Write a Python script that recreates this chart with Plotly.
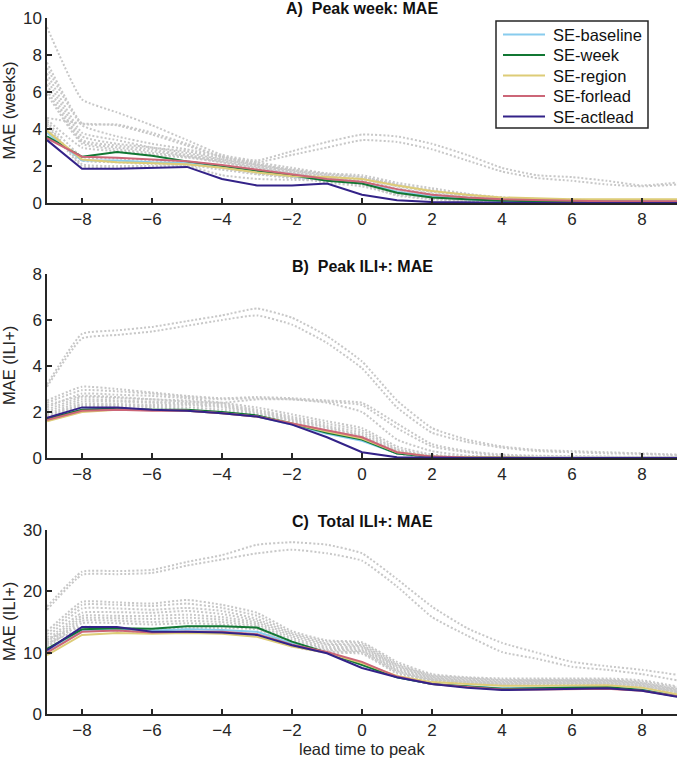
import plotly.graph_objects as go

lead = list(range(-9, 10))
series_names = ["SE-baseline", "SE-week", "SE-region", "SE-forlead", "SE-actlead"]
series_colors = ["#88CCEE", "#117733", "#DDCC77", "#CC6677", "#332288"]

# Panel A: Peak week MAE (weeks)
A_gray = [
    [9.5, 5.6, 4.9, 4.2, 3.4, 2.6, 2.3, 2.8, 3.3, 3.7, 3.6, 3.2, 2.6, 1.9, 1.5, 1.4, 1.2, 0.95, 1.1],
    [7.6, 4.3, 4.25, 3.8, 3.2, 2.5, 2.2, 2.6, 3.0, 3.4, 3.3, 2.9, 2.3, 1.7, 1.35, 1.2, 1.0, 0.9, 1.0],
    [7.3, 4.2, 3.6, 3.2, 2.9, 2.5, 2.2, 1.9, 1.6, 1.4, 1.0, 0.7, 0.45, 0.3, 0.22, 0.18, 0.15, 0.15, 0.15],
    [7.0, 3.8, 3.4, 3.0, 2.8, 2.4, 2.1, 1.8, 1.6, 1.5, 1.1, 0.8, 0.5, 0.3, 0.2, 0.15, 0.15, 0.12, 0.12],
    [6.7, 3.6, 3.2, 3.0, 2.7, 2.35, 2.05, 1.75, 1.5, 1.3, 0.9, 0.6, 0.4, 0.25, 0.18, 0.14, 0.12, 0.1, 0.1],
    [6.4, 3.4, 3.1, 2.9, 2.6, 2.3, 2.0, 1.7, 1.45, 1.2, 0.8, 0.5, 0.3, 0.2, 0.15, 0.12, 0.1, 0.1, 0.1],
    [6.1, 3.3, 3.0, 2.8, 2.55, 2.25, 1.95, 1.65, 1.4, 1.15, 0.7, 0.45, 0.25, 0.18, 0.12, 0.1, 0.1, 0.08, 0.08],
    [5.9, 3.2, 2.9, 2.7, 2.5, 2.2, 1.9, 1.6, 1.35, 1.1, 0.65, 0.4, 0.22, 0.15, 0.1, 0.08, 0.08, 0.06, 0.06],
    [4.6, 4.3, 4.2, 3.7, 3.1, 2.5, 2.1, 1.8, 1.55, 1.4, 1.0, 0.6, 0.4, 0.25, 0.2, 0.15, 0.12, 0.1, 0.1],
    [4.5, 3.0, 2.8, 2.6, 2.45, 2.2, 1.85, 1.55, 1.3, 1.05, 0.6, 0.35, 0.2, 0.12, 0.1, 0.08, 0.06, 0.05, 0.05],
    [4.4, 2.5, 2.4, 2.3, 2.2, 2.0, 1.7, 1.45, 1.2, 1.0, 0.5, 0.3, 0.15, 0.1, 0.08, 0.06, 0.05, 0.05, 0.05],
    [4.3, 2.1, 2.0, 2.0, 2.1, 1.9, 1.6, 1.4, 1.1, 0.9, 0.45, 0.25, 0.12, 0.08, 0.06, 0.05, 0.05, 0.04, 0.04],
    [4.2, 2.0, 1.9, 1.95, 2.0, 1.5, 1.3, 1.25, 1.2, 1.0, 0.4, 0.2, 0.1, 0.06, 0.05, 0.04, 0.04, 0.03, 0.03],
    [4.0, 2.3, 2.2, 2.1, 2.05, 1.8, 1.55, 1.35, 1.25, 1.1, 0.55, 0.3, 0.15, 0.1, 0.07, 0.05, 0.05, 0.05, 0.05],
]
A_baseline = [3.8, 2.3, 2.3, 2.2, 2.15, 2.0, 1.7, 1.45, 1.25, 1.1, 0.6, 0.35, 0.2, 0.12, 0.1, 0.08, 0.08, 0.08, 0.08]
A_week = [3.6, 2.5, 2.75, 2.55, 2.25, 2.0, 1.75, 1.5, 1.2, 1.05, 0.55, 0.3, 0.2, 0.12, 0.1, 0.08, 0.06, 0.05, 0.05]
A_region = [3.9, 2.35, 2.2, 2.15, 2.1, 1.9, 1.65, 1.45, 1.4, 1.3, 0.95, 0.65, 0.45, 0.3, 0.25, 0.2, 0.2, 0.2, 0.2]
A_forlead = [3.5, 2.5, 2.45, 2.35, 2.25, 2.05, 1.8, 1.55, 1.3, 1.15, 0.75, 0.45, 0.3, 0.2, 0.15, 0.12, 0.1, 0.1, 0.1]
A_actlead = [3.4, 1.85, 1.85, 1.9, 1.95, 1.3, 0.95, 0.95, 1.05, 0.45, 0.15, 0.05, 0.02, 0.0, 0.0, 0.0, 0.0, 0.0, 0.0]

# Panel B: Peak ILI+ MAE
B_gray = [
    [3.2, 5.4, 5.55, 5.7, 5.95, 6.2, 6.5, 6.1, 5.3, 4.2, 2.5, 1.3, 0.8, 0.5, 0.35, 0.3, 0.25, 0.2, 0.15],
    [3.1, 5.2, 5.35, 5.5, 5.75, 6.0, 6.2, 5.8, 5.0, 3.9, 2.2, 1.1, 0.7, 0.45, 0.3, 0.25, 0.2, 0.18, 0.12],
    [2.5, 3.1, 3.0, 2.85, 2.7, 2.6, 2.65, 2.6, 2.5, 2.4, 1.5, 0.6, 0.3, 0.15, 0.1, 0.08, 0.06, 0.05, 0.05],
    [2.4, 2.95, 2.9, 2.8, 2.65, 2.55, 2.6, 2.55, 2.45, 2.3, 1.3, 0.5, 0.25, 0.1, 0.08, 0.06, 0.05, 0.04, 0.04],
    [2.2, 2.8, 2.75, 2.7, 2.6, 2.4, 2.2, 1.9, 1.6, 1.3, 0.5, 0.15, 0.05, 0.03, 0.02, 0.02, 0.02, 0.02, 0.02],
    [2.1, 2.65, 2.6, 2.55, 2.5, 2.35, 2.1, 1.8, 1.5, 1.2, 0.4, 0.1, 0.04, 0.02, 0.02, 0.02, 0.02, 0.02, 0.02],
    [2.0, 2.55, 2.5, 2.45, 2.4, 2.3, 2.05, 1.75, 1.4, 1.1, 0.35, 0.08, 0.03, 0.02, 0.02, 0.02, 0.02, 0.02, 0.02],
    [1.9, 2.45, 2.45, 2.4, 2.35, 2.25, 2.0, 1.7, 1.35, 1.0, 0.3, 0.05, 0.02, 0.01, 0.01, 0.01, 0.01, 0.01, 0.01],
    [1.85, 2.35, 2.35, 2.3, 2.3, 2.2, 1.95, 1.65, 1.3, 0.95, 0.25, 0.05, 0.02, 0.01, 0.01, 0.01, 0.01, 0.01, 0.01],
    [1.8, 2.3, 2.3, 2.25, 2.2, 2.1, 1.9, 1.6, 1.2, 0.9, 0.2, 0.03, 0.01, 0.01, 0.01, 0.01, 0.01, 0.01, 0.01],
    [2.3, 2.7, 2.65, 2.55, 2.45, 2.4, 2.55, 2.55, 2.4, 2.0, 0.8, 0.3, 0.1, 0.05, 0.04, 0.03, 0.03, 0.03, 0.03],
    [1.75, 2.25, 2.25, 2.2, 2.1, 2.0, 1.85, 1.5, 1.15, 0.8, 0.2, 0.03, 0.01, 0.01, 0.01, 0.01, 0.01, 0.01, 0.01],
]
B_baseline = [1.7, 2.1, 2.15, 2.1, 2.05, 1.95, 1.8, 1.45, 1.05, 0.75, 0.2, 0.05, 0.02, 0.0, 0.0, 0.0, 0.0, 0.0, 0.0]
B_week = [1.7, 2.1, 2.15, 2.1, 2.1, 2.0, 1.85, 1.5, 1.1, 0.8, 0.2, 0.05, 0.02, 0.0, 0.0, 0.0, 0.0, 0.0, 0.0]
B_region = [1.6, 2.0, 2.1, 2.1, 2.05, 1.95, 1.8, 1.5, 1.15, 0.85, 0.25, 0.06, 0.02, 0.0, 0.0, 0.0, 0.0, 0.0, 0.0]
B_forlead = [1.65, 2.05, 2.1, 2.05, 2.05, 1.95, 1.8, 1.5, 1.2, 0.9, 0.25, 0.06, 0.02, 0.0, 0.0, 0.0, 0.0, 0.0, 0.0]
B_actlead = [1.75, 2.2, 2.2, 2.1, 2.05, 1.95, 1.8, 1.45, 0.9, 0.25, 0.03, 0.0, 0.0, 0.0, 0.0, 0.0, 0.0, 0.0, 0.0]

# Panel C: Total ILI+ MAE
C_gray = [
    [17.5, 23.2, 23.3, 23.5, 24.8, 25.9, 27.6, 28.0, 27.6, 26.2, 22.0, 17.5, 14.0, 11.6, 10.0, 8.5, 7.8, 7.2, 6.4],
    [17.0, 22.7, 22.8, 23.0, 24.2, 25.2, 26.2, 26.8, 26.2, 25.0, 20.8, 15.8, 12.8, 10.1, 9.0, 7.7, 7.2, 6.5, 5.5],
    [13.5, 18.3, 18.2, 18.0, 18.6, 17.8, 16.5, 13.5, 12.0, 11.7, 8.5, 6.5, 6.0, 5.8, 5.8, 5.8, 5.8, 5.5, 4.5],
    [13.0, 17.8, 17.8, 17.6, 18.0, 17.3, 16.0, 13.2, 11.8, 11.5, 8.2, 6.3, 5.9, 5.6, 5.6, 5.6, 5.6, 5.3, 4.3],
    [12.5, 17.2, 17.2, 17.0, 17.3, 16.8, 15.5, 13.0, 11.5, 11.2, 8.0, 6.2, 5.8, 5.5, 5.5, 5.5, 5.5, 5.1, 4.1],
    [12.0, 16.5, 16.6, 16.5, 16.8, 16.3, 15.2, 12.7, 11.3, 11.0, 7.8, 6.0, 5.6, 5.3, 5.4, 5.4, 5.4, 5.0, 4.0],
    [11.7, 16.0, 16.0, 16.0, 16.2, 15.8, 14.9, 12.4, 11.0, 10.8, 7.6, 5.9, 5.5, 5.2, 5.3, 5.3, 5.3, 4.9, 3.9],
    [11.3, 15.6, 15.6, 15.5, 15.7, 15.4, 14.6, 12.1, 10.8, 10.6, 7.4, 5.8, 5.4, 5.1, 5.2, 5.2, 5.2, 4.8, 3.8],
    [11.0, 15.2, 15.2, 15.0, 15.2, 15.0, 14.3, 11.8, 10.6, 10.4, 7.2, 5.7, 5.3, 5.0, 5.1, 5.1, 5.1, 4.7, 3.7],
    [10.8, 14.8, 14.8, 14.6, 14.8, 14.6, 14.0, 11.5, 10.4, 10.2, 7.0, 5.6, 5.2, 4.9, 5.0, 5.0, 5.0, 4.6, 3.6],
    [12.2, 14.2, 14.0, 13.8, 14.0, 14.0, 13.8, 11.3, 10.2, 10.0, 6.8, 5.5, 5.1, 4.8, 4.9, 4.9, 4.9, 4.5, 3.5],
    [11.5, 13.8, 13.6, 13.3, 13.4, 13.2, 13.0, 11.0, 10.0, 9.8, 6.6, 5.4, 5.0, 4.7, 4.8, 4.8, 4.8, 4.4, 3.4],
]
C_baseline = [10.2, 13.6, 13.8, 13.6, 13.8, 13.7, 13.4, 11.5, 10.0, 8.0, 6.0, 4.9, 4.6, 4.2, 4.3, 4.4, 4.5, 4.0, 3.0]
C_week = [10.6, 13.8, 14.0, 13.9, 14.3, 14.3, 14.1, 11.8, 10.0, 8.0, 6.0, 4.9, 4.5, 4.1, 4.2, 4.3, 4.4, 3.9, 2.9]
C_region = [9.6, 12.9, 13.2, 13.1, 13.2, 13.1, 12.6, 11.0, 10.0, 8.3, 6.2, 5.2, 4.9, 4.6, 4.6, 4.7, 4.7, 4.3, 3.2]
C_forlead = [10.0, 13.4, 13.6, 13.3, 13.4, 13.4, 13.0, 11.3, 10.1, 8.5, 6.1, 4.9, 4.4, 4.0, 4.0, 4.1, 4.1, 3.8, 2.9]
C_actlead = [10.4, 14.2, 14.2, 13.4, 13.4, 13.3, 12.9, 11.2, 9.9, 7.5, 6.0, 4.9, 4.3, 3.9, 4.0, 4.1, 4.2, 3.8, 2.8]

NB = "\u00a0"
panel_titles = ["<b>A)" + NB + NB + "Peak week: MAE</b>",
                "<b>B)" + NB + NB + "Peak ILI+: MAE</b>",
                "<b>C)" + NB + NB + "Total ILI+: MAE</b>"]
y_titles = ["MAE (weeks)", "MAE (ILI+)", "MAE (ILI+)"]
y_ticks = [[0, 2, 4, 6, 8, 10], [0, 2, 4, 6, 8], [0, 10, 20, 30]]
y_ranges = [[0, 10], [0, 8], [0, 30]]
x_ticks = [-8, -6, -4, -2, 0, 2, 4, 6, 8]
x_title = "lead time to peak"

panels = [
    (A_gray, [A_baseline, A_week, A_region, A_forlead, A_actlead]),
    (B_gray, [B_baseline, B_week, B_region, B_forlead, B_actlead]),
    (C_gray, [C_baseline, C_week, C_region, C_forlead, C_actlead]),
]

W, H = 680, 763
L, R = 47, 3
PW = W - L - R
px_extents = [(18, 203), (274, 458), (530, 714)]
title_centers = [9, 266, 521]
FONT = "Liberation Sans, Arial, Helvetica, sans-serif"
AX = "#262626"


def px_x(px):
    return (px - L) / PW


def px_y(py):
    return 1 - py / H


fig = go.Figure()
layout = dict(
    width=W, height=H,
    margin=dict(l=L, r=R, t=0, b=0),
    paper_bgcolor="white", plot_bgcolor="white",
    font=dict(family=FONT, size=16, color=AX),
    showlegend=False,
    annotations=[],
    shapes=[],
)

for i, (gray, cols) in enumerate(panels):
    suffix = "" if i == 0 else str(i + 1)
    xa = "x" + suffix
    ya = "y" + suffix
    for g in gray:
        fig.add_trace(go.Scatter(x=lead, y=g, mode="lines", xaxis=xa, yaxis=ya,
                                 line=dict(color="#c8c8c8", width=2, dash="2px,2px",
                                           shape="spline", smoothing=0.4),
                                 showlegend=False, hoverinfo="skip"))
    for name, color, vals in zip(series_names, series_colors, cols):
        fig.add_trace(go.Scatter(x=lead, y=vals, mode="lines", xaxis=xa, yaxis=ya,
                                 name=name, line=dict(color=color, width=2),
                                 showlegend=False))
    top, bot = px_extents[i]
    dom = [1 - bot / H, 1 - top / H]
    layout["xaxis" + suffix] = dict(
        range=[-9, 9], tickvals=x_ticks, ticks="inside", ticklen=5, tickwidth=1.5,
        tickcolor=AX, showline=True, linecolor=AX, linewidth=1.5, showgrid=False,
        zeroline=False, anchor=ya, tickfont=dict(size=17, color=AX), automargin=False,
        domain=[0, 1],
    )
    layout["yaxis" + suffix] = dict(
        range=y_ranges[i], tickvals=y_ticks[i], ticks="inside", ticklen=5, tickwidth=1.5,
        tickcolor=AX, showline=True, linecolor=AX, linewidth=1.5, showgrid=False,
        zeroline=False, anchor=xa, domain=dom, tickfont=dict(size=17, color=AX),
        automargin=False,
    )
    layout["annotations"].append(dict(
        text=panel_titles[i], xref="paper", yref="paper", x=0.5,
        y=px_y(title_centers[i]),
        xanchor="center", yanchor="middle", showarrow=False,
        font=dict(size=16, color="#111111")))
    layout["annotations"].append(dict(
        text=y_titles[i], xref="paper", yref="paper", x=px_x(9),
        y=px_y((top + bot) / 2), textangle=-90,
        xanchor="center", yanchor="middle", showarrow=False,
        font=dict(size=16.5, color=AX)))

layout["annotations"].append(dict(
    text=x_title, xref="paper", yref="paper", x=0.5, y=px_y(749),
    xanchor="center", yanchor="middle", showarrow=False,
    font=dict(size=16.5, color=AX)))

# Legend box (drawn manually to match the reference layout)
lg_left, lg_top, lg_right, lg_bot = 496, 21, 648, 128
layout["shapes"].append(dict(
    type="rect", xref="paper", yref="paper",
    x0=px_x(lg_left), x1=px_x(lg_right), y0=px_y(lg_bot), y1=px_y(lg_top),
    line=dict(color="#262626", width=1.5), fillcolor="white", layer="above"))
row_y = [34.5, 55, 75.5, 96, 116.5]
for name, color, ry in zip(series_names, series_colors, row_y):
    layout["shapes"].append(dict(
        type="line", xref="paper", yref="paper",
        x0=px_x(503), x1=px_x(545), y0=px_y(ry), y1=px_y(ry),
        line=dict(color=color, width=2), layer="above"))
    layout["annotations"].append(dict(
        text=name, xref="paper", yref="paper", x=px_x(551), y=px_y(ry),
        xanchor="left", yanchor="middle", showarrow=False,
        font=dict(size=16.5, color="#111111")))

fig.update_layout(**layout)
fig.write_html("out.html", config={"displayModeBar": False},
               post_script="document.body.style.margin='0px';")
